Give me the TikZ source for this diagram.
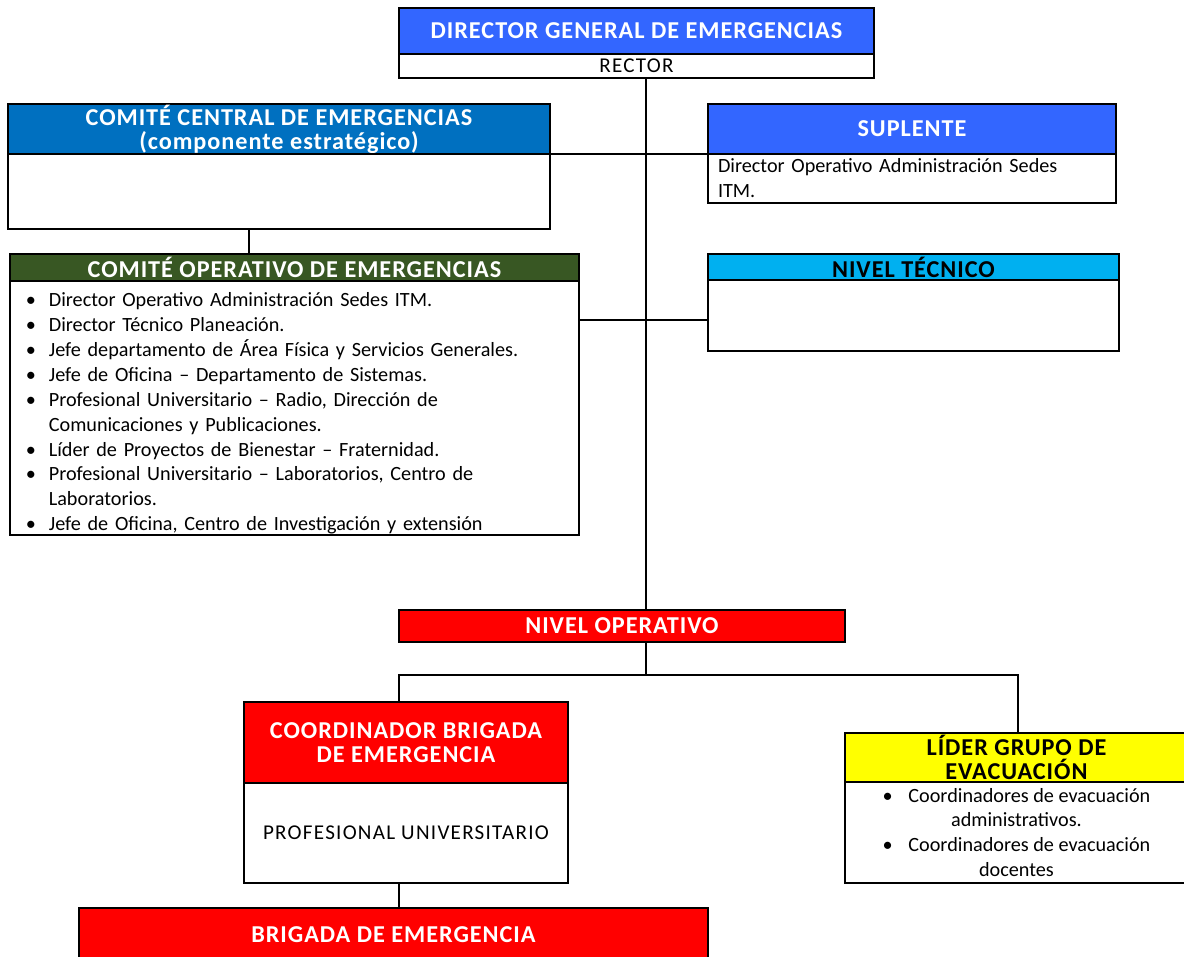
\documentclass[tikz,border=0pt]{standalone}
\usepackage{fontspec}
\setmainfont{Carlito}
\newfontfamily\hdrfont[LetterSpace=4]{Carlito}
\newfontfamily\capsfont[LetterSpace=6]{Carlito}
\usetikzlibrary{positioning}

\definecolor{azulhdr}{HTML}{3366FF}
\definecolor{azulcom}{HTML}{0070C0}
\definecolor{verdecom}{HTML}{385723}
\definecolor{celeste}{HTML}{00B0F0}
\definecolor{rojo}{HTML}{FF0000}
\definecolor{amarillo}{HTML}{FFFF00}

\newcommand\vin[1]{\par\hangindent=13pt\hangafter=1\noindent\makebox[13pt][l]{\textbullet}#1\par}

\begin{document}
\begin{tikzpicture}[x=0.02cm,y=-0.02cm,
  caja/.style={draw,line width=0.8pt,outer sep=0pt,inner sep=0pt,anchor=north west},
  hdr/.style={caja,text=white,align=center,font=\hdrfont\bfseries\fontsize{13.8}{13.6}\selectfont},
  cuerpo/.style={caja,fill=white,font=\fontsize{11.5}{14.17}\selectfont},
  mayus/.style={font=\capsfont\fontsize{12}{14.17}\selectfont},
  linea/.style={line width=0.6pt}]
\useasboundingbox (0,0) rectangle (1184,957);

% puntos de paso de las lineas
\coordinate (tk) at (646,0);
\coordinate (cv) at (249,0);
\coordinate (hm) at (0,320);
\coordinate (bl) at (399,675);
\coordinate (br) at (1018,675);

% direccion
\node[hdr,fill=azulhdr,minimum width=9.5cm,minimum height=0.92cm] (dirh) at (399,8) {DIRECTOR GENERAL DE EMERGENCIAS};
\node[cuerpo,mayus,minimum width=9.5cm,minimum height=0.48cm,below=0pt of dirh] (dirb) {RECTOR};

% comite central y suplente
\node[hdr,fill=azulcom,minimum width=10.84cm,minimum height=1cm] (cch) at (8,104) {COMITÉ CENTRAL DE EMERGENCIAS\\(componente estratégico)};
\node[cuerpo,minimum width=10.84cm,minimum height=1.5cm,below=0pt of cch] (ccb) {};

\node[hdr,fill=azulhdr,minimum width=8.16cm,minimum height=1cm] (suph) at (708,104) {SUPLENTE};
\node[cuerpo,text width=7.76cm,inner xsep=0.2cm,minimum height=0.98cm,align=left,below=0pt of suph] (supb) {Director Operativo Administración Sedes\\ITM.};

% comite operativo y nivel tecnico
\node[hdr,fill=verdecom,minimum width=11.38cm,minimum height=0.54cm] (coh) at (10,254) {COMITÉ OPERATIVO DE EMERGENCIAS};
\node[cuerpo,text width=10.74cm,inner xsep=0.32cm,minimum height=5.08cm,align=left,below=0pt of coh] (cob) {%
\vin{Director Operativo Administración Sedes ITM.}
\vin{Director Técnico Planeación.}
\vin{Jefe departamento de Área Física y Servicios Generales.}
\vin{Jefe de Oficina – Departamento de Sistemas.}
\vin{Profesional Universitario – Radio, Dirección de\newline Comunicaciones y Publicaciones.}
\vin{Líder de Proyectos de Bienestar – Fraternidad.}
\vin{Profesional Universitario – Laboratorios, Centro de\newline Laboratorios.}
\vin{Jefe de Oficina, Centro de Investigación y extensión}};

\node[hdr,fill=celeste,text=black,minimum width=8.22cm,minimum height=0.52cm] (nth) at (708,254) {NIVEL TÉCNICO};
\node[cuerpo,minimum width=8.22cm,minimum height=1.42cm,below=0pt of nth] (ntb) {};

% nivel operativo
\node[hdr,fill=rojo,minimum width=8.92cm,minimum height=0.64cm] (nop) at (399,610) {NIVEL OPERATIVO};

\node[hdr,fill=rojo,minimum width=6.48cm,minimum height=1.62cm] (coordh) at (244,702) {COORDINADOR BRIGADA\\DE EMERGENCIA};
\node[cuerpo,mayus,minimum width=6.48cm,minimum height=2cm,below=0pt of coordh] (coordb) {PROFESIONAL UNIVERSITARIO};

\node[hdr,fill=rojo,minimum width=12.58cm,minimum height=1.08cm] (brig) at (79,908) {BRIGADA DE EMERGENCIA};

\node[hdr,fill=amarillo,text=black,minimum width=6.86cm,minimum height=0.98cm] (lidh) at (845,733) {LÍDER GRUPO DE\\EVACUACIÓN};
\node[cuerpo,minimum width=6.86cm,minimum height=2.02cm,align=center,below=0pt of lidh] (lidb) {%
\textbullet\hspace{9pt}Coordinadores de evacuación\\administrativos.\\
\textbullet\hspace{9pt}Coordinadores de evacuación\\docentes};

% lineas
\draw[linea] (dirb.south -| tk) -- (nop.north -| tk);
\draw[linea] (cch.south east) -- (suph.south west);
\draw[linea] (cob.east |- hm) -- (ntb.west |- hm);
\draw[linea] (ccb.south -| cv) -- (coh.north -| cv);
\draw[linea] (nop.south -| tk) -- (tk |- bl);
\draw[linea] (coordh.north -| bl) -- (bl) -- (br) -- (lidh.north -| br);
\draw[linea] (coordb.south -| bl) -- (brig.north -| bl);
\end{tikzpicture}
\end{document}
